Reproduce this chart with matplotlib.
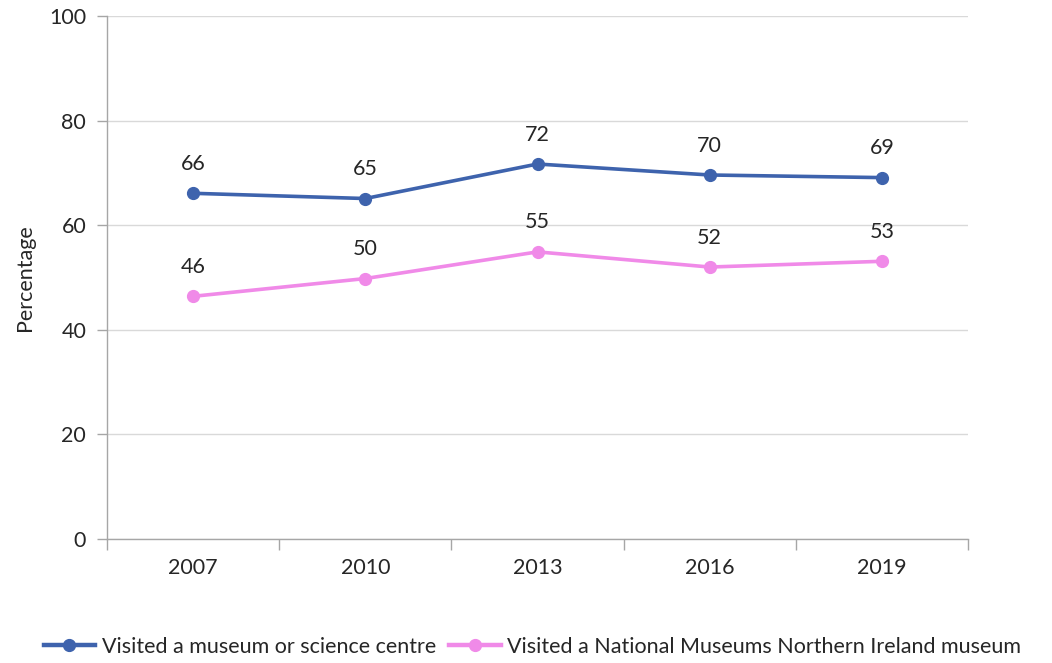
import matplotlib
matplotlib.use("Agg")
import matplotlib.pyplot as plt
from matplotlib.lines import Line2D

years = ["2007", "2010", "2013", "2016", "2019"]
museum = [66.1, 65.1, 71.7, 69.6, 69.1]
nmni = [46.4, 49.8, 54.9, 52.0, 53.1]
series_names = ["Visited a museum or science centre",
                "Visited a National Museums Northern Ireland museum"]
colors = ["#3E63AD", "#F08AE8"]
yticks = [0, 20, 40, 60, 80, 100]

plt.rcParams['font.family'] = ['Lato', 'DejaVu Sans']
fs = 15.5

fig = plt.figure(figsize=(10.52, 6.63), dpi=100)
ax = fig.add_axes([107/1052, 124/663, (968-107)/1052, (539-16)/663])

x = list(range(len(years)))
for vals, c, name in zip([museum, nmni], colors, series_names):
    ax.plot(x, vals, color=c, lw=2.6, marker='o', ms=8.5, label=name,
            solid_capstyle='round', zorder=3)
    for xi, v in zip(x, vals):
        ax.annotate(f"{v:.0f}", (xi, v), xytext=(0, 14), textcoords='offset points',
                    ha='center', va='bottom', fontsize=fs, color='#262626')

ax.set_xlim(-0.5, len(years) - 0.5)
ax.set_ylim(0, 100)
ax.set_yticks(yticks)
ax.set_yticklabels([str(t) for t in yticks], fontsize=fs, color='#262626')
ax.yaxis.grid(True, color='#D9D9D9', lw=1)
ax.set_axisbelow(True)
ax.tick_params(axis='y', length=7, color='#A6A6A6', width=1, pad=8)

ax.set_xticks(x)
ax.set_xticklabels(years, fontsize=fs, color='#262626')
ax.tick_params(axis='x', length=0, pad=14)
ax.set_xticks([i - 0.5 for i in range(len(years) + 1)], minor=True)
ax.tick_params(axis='x', which='minor', length=8, color='#A6A6A6', width=1)

for s in ['top', 'right']:
    ax.spines[s].set_visible(False)
for s in ['left', 'bottom']:
    ax.spines[s].set_color('#A6A6A6')
    ax.spines[s].set_linewidth(1)

ax.set_ylabel("Percentage", fontsize=fs, color='#262626', labelpad=10)

handles = [Line2D([0], [0], color=c, lw=3.2, marker='o', ms=8.5) for c in colors]
fig.legend(handles, series_names, loc='center', bbox_to_anchor=(0.506, 1 - 647/663),
           ncol=2, frameon=False, fontsize=fs, handlelength=2.4, handletextpad=0.3,
           columnspacing=0.6, labelcolor='#262626')

fig.savefig("out.png", dpi=100)
